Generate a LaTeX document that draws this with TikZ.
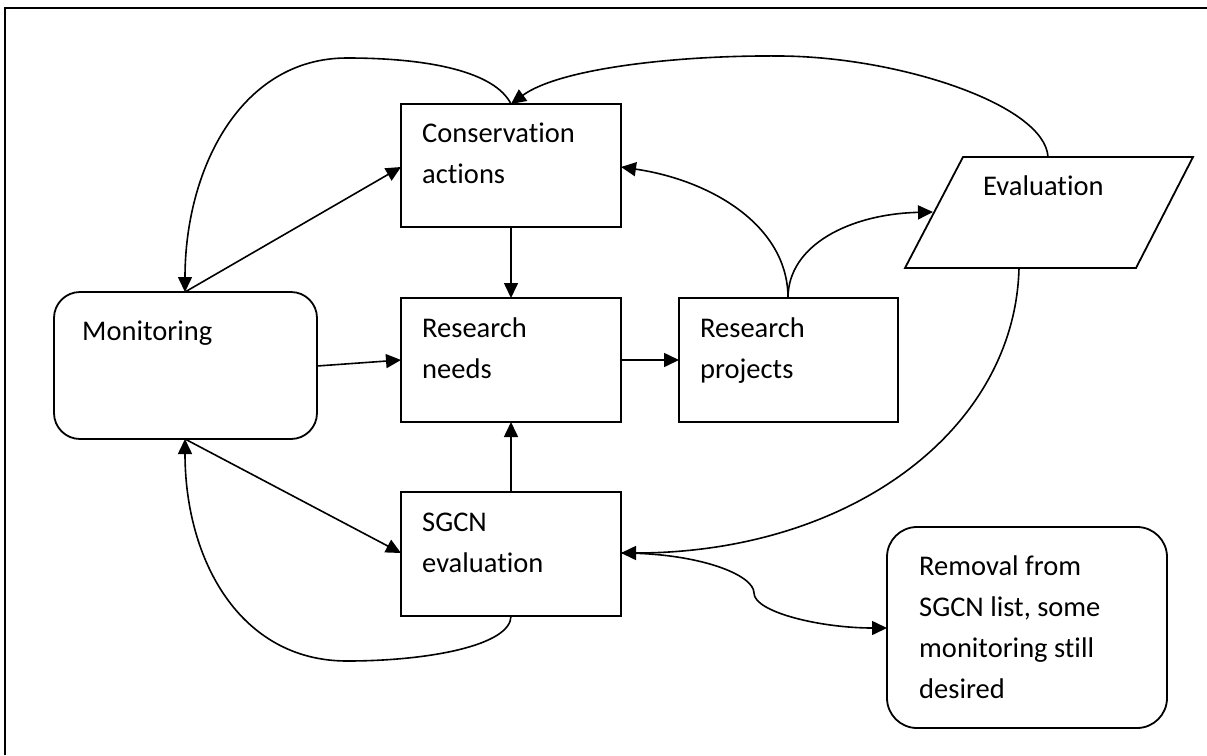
\documentclass[tikz,border=0pt]{standalone}
\usepackage{fontspec}
\setmainfont{Carlito}[Ligatures=NoCommon]
\usetikzlibrary{arrows.meta}
\begin{document}
\begin{tikzpicture}[x=1pt,y=-1pt,
  boxshape/.style={draw, line width=1.8pt, inner sep=0pt, outer sep=0pt, anchor=north west},
  roundbox/.style={boxshape, rounded corners=26pt},
  lbl/.style={anchor=base west, inner sep=0pt, font=\fontsize{28.5}{41}\selectfont},
  conn/.style={line width=1.6pt, -{Triangle[length=15pt,width=14pt]}},
  plain/.style={line width=1.6pt}
]
\useasboundingbox (0,0) rectangle (1207,755);
% frame
\draw[line width=2.5pt] (5,755) -- (5,8) -- (1207,8);

% boxes
\node[roundbox, minimum width=263pt, minimum height=147pt] (mon) at (54,292) {};
\node[boxshape, minimum width=220pt, minimum height=123pt] (cons) at (401,104) {};
\node[boxshape, minimum width=220pt, minimum height=124pt] (rn) at (401,298) {};
\node[boxshape, minimum width=219pt, minimum height=124pt] (rp) at (679,298) {};
\node[boxshape, minimum width=220pt, minimum height=124pt] (sgcn) at (401,492) {};
\node[roundbox, rounded corners=30pt, minimum width=280pt, minimum height=201pt] (rem) at (887,527) {};
% evaluation parallelogram
\coordinate (evtl) at (963,157);
\coordinate (evtr) at (1193,157);
\coordinate (evbr) at (1136,268);
\coordinate (evbl) at (905,268);
\draw[line width=1.8pt, line join=miter] (evtl) -- (evtr) -- (evbr) -- (evbl) -- cycle;
\coordinate (evtop) at (1048,157);
\coordinate (evleft) at (933,212);
\coordinate (evbot) at (1019,268);

% texts
\node[lbl] (tmon) at (82,340) {Monitoring};
\node[lbl] (tcons1) at (422,142) {Conservation};
\node[lbl] (tcons2) at (422,183) {actions};
\node[lbl] (trn1) at (422,337) {Research};
\node[lbl] (trn2) at (422,378) {needs};
\node[lbl] (trp1) at (700,337) {Research};
\node[lbl] (trp2) at (700,378) {projects};
\node[lbl] (tsg1) at (422,531) {SGCN};
\node[lbl] (tsg2) at (422,572) {evaluation};
\node[lbl] (tev) at (983,195) {Evaluation};
\node[lbl] (trm1) at (919,575) {Removal from};
\node[lbl] (trm2) at (919,616) {SGCN list, some};
\node[lbl] (trm3) at (919,657) {monitoring still};
\node[lbl] (trm4) at (919,698) {desired};

% anchor coordinates
\coordinate (montop) at (185,292);
\coordinate (monbot) at (185,439);
\coordinate (monright) at (317,366);
\coordinate (constop) at (511,104);
\coordinate (consleft) at (401,167);
\coordinate (consright) at (621,167);
\coordinate (rptop) at (788,298);
\coordinate (sgright) at (621,553);
\coordinate (sgleft) at (401,553);
\coordinate (remleft) at (887,628);

% straight connectors
\draw[conn] (montop) -- (consleft);
\draw[conn] (cons.south) -- (rn.north);
\draw[conn] (monright) -- (401,360);
\draw[conn] (rn.east) -- (rp.west);
\draw[conn] (sgcn.north) -- (rn.south);
\draw[conn] (monbot) -- (sgleft);

% curved connectors
\draw[conn] (constop) .. controls (495,72) and (430,58) .. (347,58) .. controls (240,58) and (185,170) .. (montop);
\draw[conn] (evtop) .. controls (1045,105) and (900,57) .. (781,56) .. controls (680,55) and (560,68) .. (constop);
\draw[conn] (rptop) .. controls (788,225) and (710,180) .. (consright);
\draw[conn] (rptop) .. controls (788,245) and (850,214) .. (evleft);
\draw[conn] (evbot) .. controls (1015,430) and (850,553) .. (sgright);
\draw[conn] (sgright) .. controls (700,553) and (754,575) .. (754,593) .. controls (754,612) and (820,628) .. (remleft);
\draw[conn] (sgcn.south) .. controls (511,645) and (430,661) .. (347,661) .. controls (240,661) and (185,560) .. (monbot);
\end{tikzpicture}
\end{document}
